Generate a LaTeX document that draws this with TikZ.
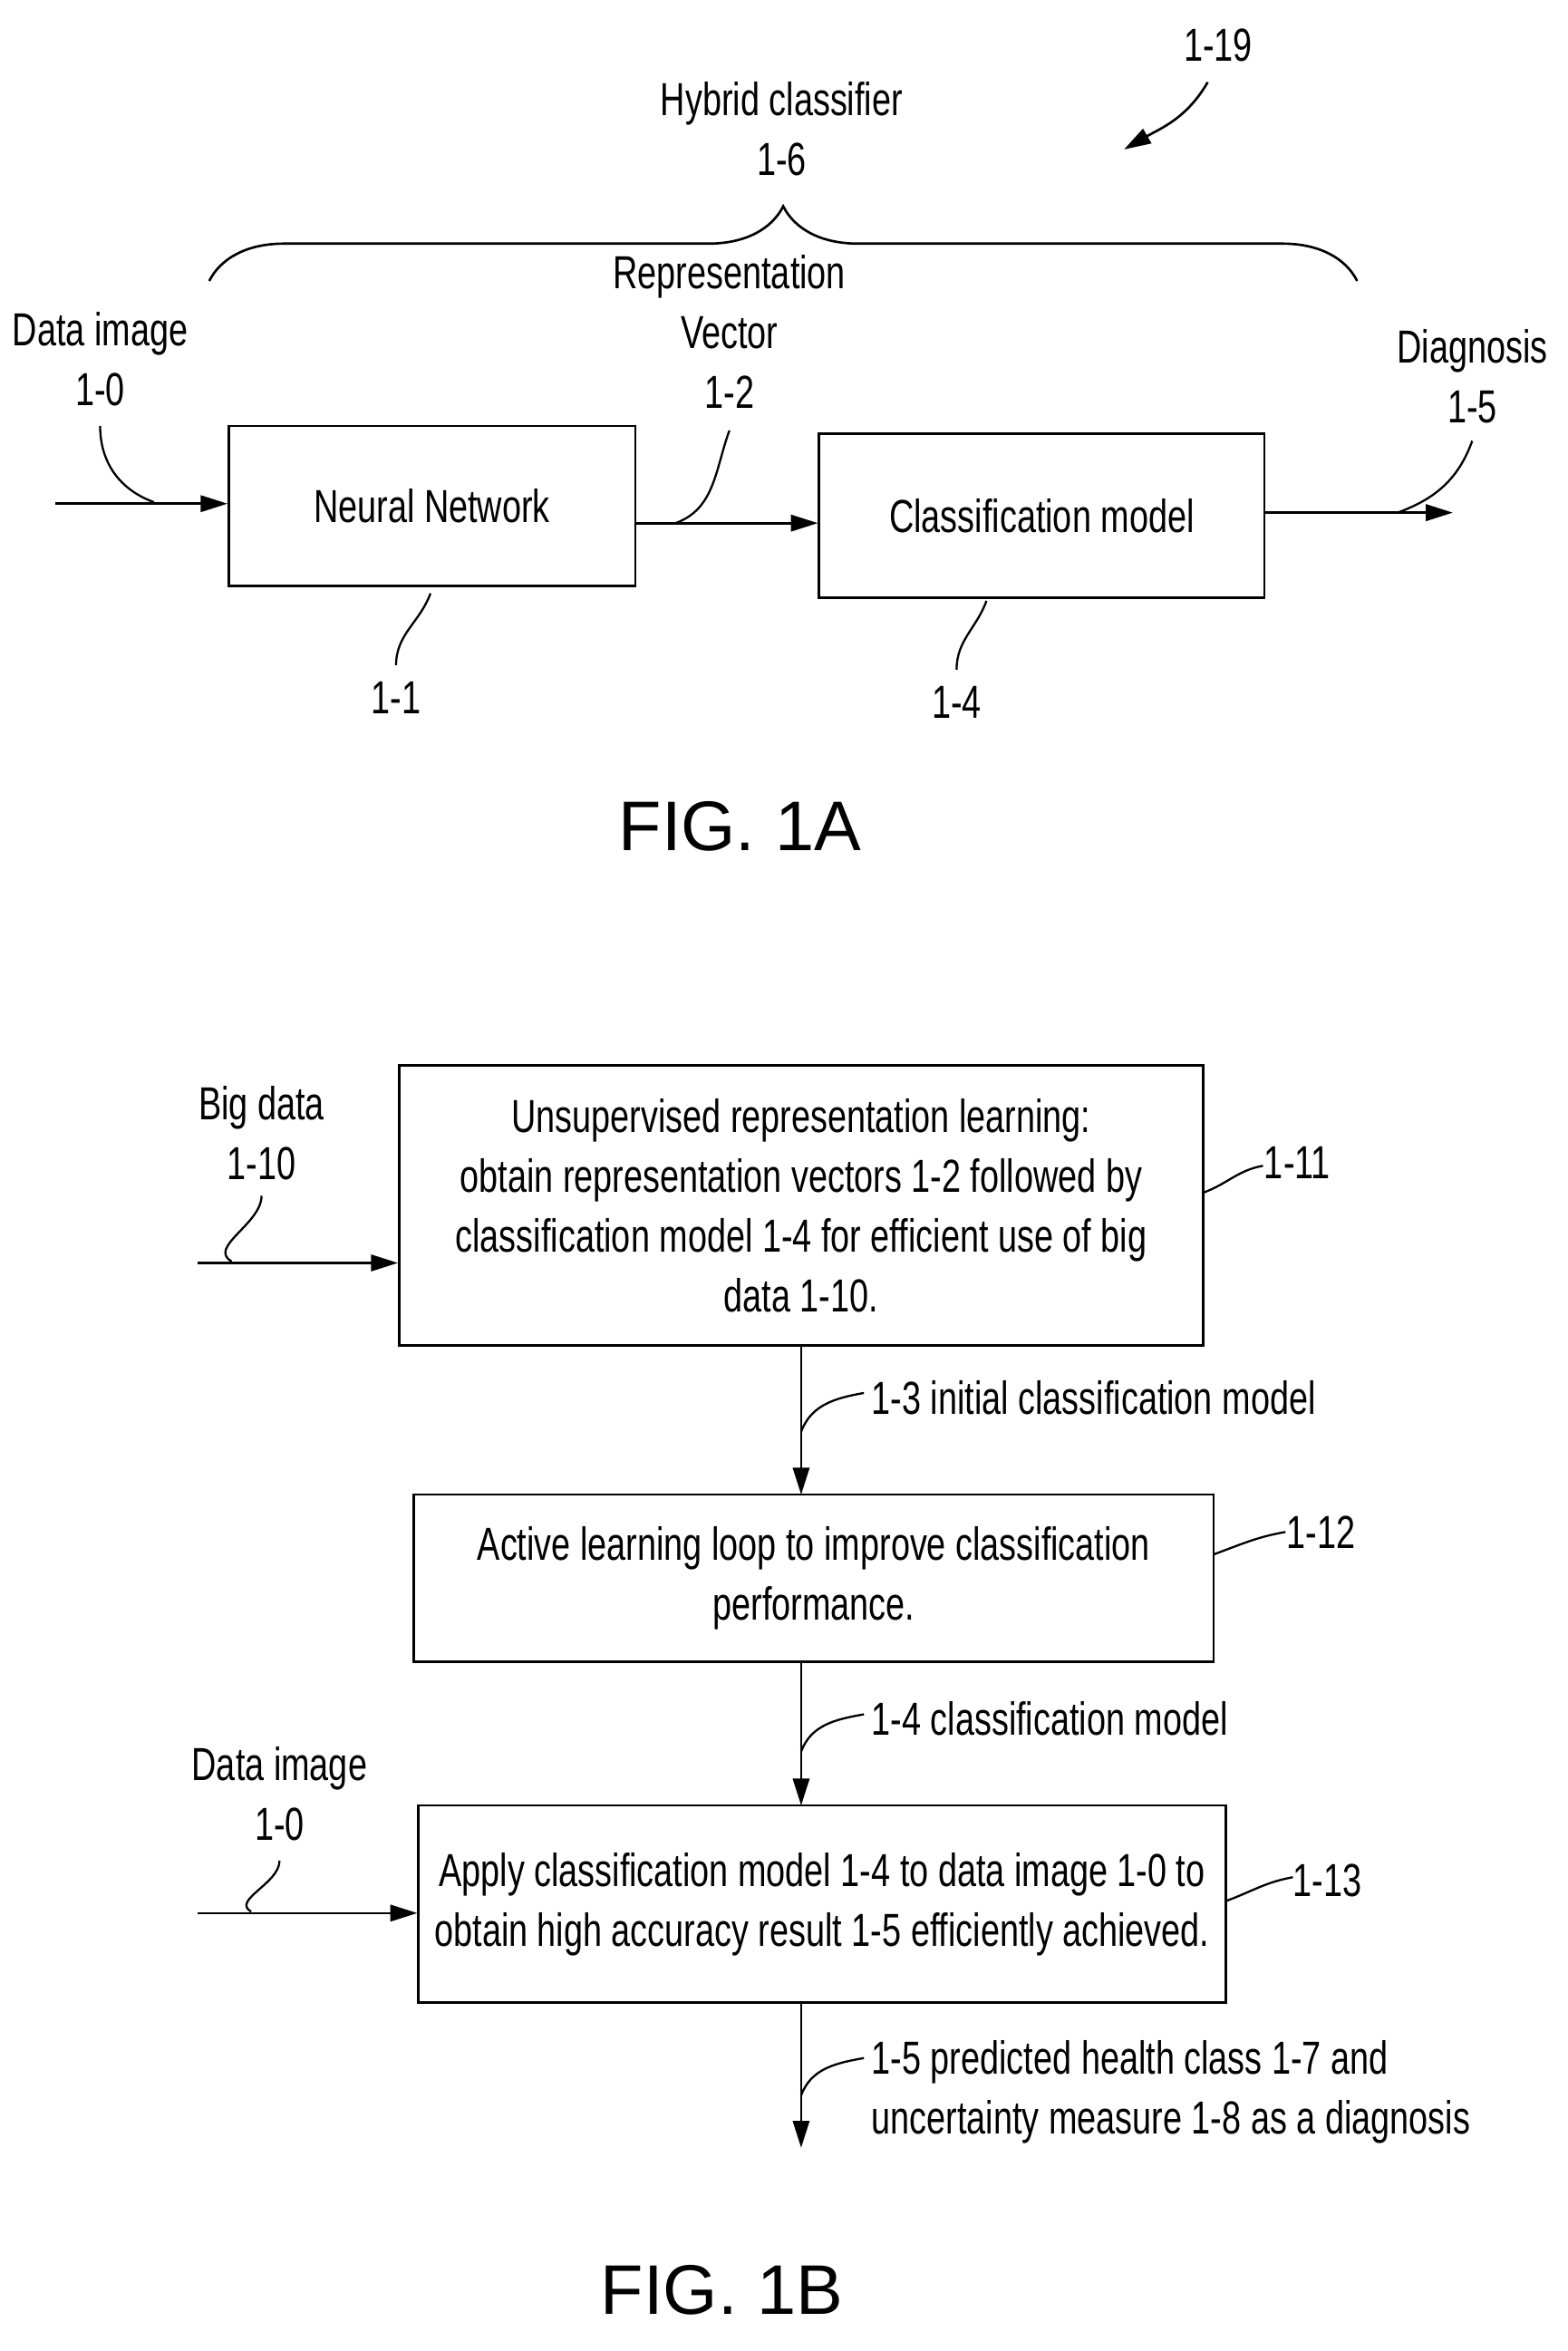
\documentclass[tikz,border=0pt]{standalone}
\usepackage{fontspec}
\setmainfont{Liberation Sans}[FakeStretch=0.74]
\newfontfamily\figfont{Liberation Sans}
\usetikzlibrary{arrows.meta,decorations.pathreplacing}
\begin{document}
\begin{tikzpicture}[x=1pt,y=-1pt,
  txt/.style={font=\fontsize{31}{40}\selectfont, inner sep=0pt, align=center},
  lbl/.style={font=\fontsize{31}{40}\selectfont, inner sep=0pt, align=left, anchor=west},
  fig/.style={font=\figfont\fontsize{47}{56}\selectfont, inner sep=0pt},
  box/.style={draw, line width=1.6pt, inner sep=0pt},
  arr/.style={line width=1.6pt, -{Triangle[length=18pt,width=11pt]}},
  lead/.style={line width=1.4pt}]
\useasboundingbox (0,0) rectangle (1049,1573);
% FIG 1A
\node[txt] (n119) at (815,30) {1-19};
\coordinate (a119) at (752,100);
\draw[arr] (808,55) to[out=240,in=30] (a119);
\node[txt] (hc) at (523,86) {Hybrid classifier\\1-6};
\draw[line width=1.6pt, decoration={brace,amplitude=50pt,aspect=0.5}, decorate] (140,188) -- (908,188);
\node[txt] (rv) at (488,222) {Representation\\Vector\\1-2};
\node[txt] (di) at (67,240) {Data image\\1-0};
\node[txt] (dg) at (985,252) {Diagnosis\\1-5};
\node[box, minimum width=272pt, minimum height=107pt] (nn) at (289,338.5) {};
\node[txt] at (nn) {Neural Network};
\node[box, minimum width=298pt, minimum height=110pt] (cm) at (697,345) {};
\node[txt] at (cm) {Classification model};
\coordinate (in0) at (37,337);
\draw[arr] (in0) -- (nn.west |- in0);
\draw[lead] (67,285) to[out=270,in=160] (103,336);
\draw[arr] (nn.east |- 0,350) -- (cm.west |- 0,350);
\draw[lead] (488,288) to[out=250,in=20] (452,350);
\coordinate (out0) at (972,343);
\draw[arr] (cm.east |- out0) -- (out0);
\draw[lead] (985,295) to[out=250,in=20] (935,343);
\node[txt] (l11) at (265,467) {1-1};
\draw[lead] (288,397) to[out=250,in=90] (265,445);
\node[txt] (l14) at (640,470) {1-4};
\draw[lead] (660,402) to[out=250,in=90] (640,448);
\node[fig] (f1a) at (495,553) {FIG. 1A};
% FIG 1B
\node[box, minimum width=538pt, minimum height=187pt] (b11) at (536,806.5) {};
\node[txt] at (b11) {Unsupervised representation learning:\\obtain representation vectors 1-2 followed by\\classification model 1-4 for efficient use of big\\data 1-10.};
\node[txt] (bd) at (175,758) {Big data\\1-10};
\coordinate (in1) at (132,845);
\draw[arr] (in1) -- (b11.west |- in1);
\draw[lead] (175,800) to[out=270,in=150] (155,844);
\node[txt] (l111) at (868,778) {1-11};
\draw[lead] (805,798) to[out=20,in=190] (845,780);
\node[box, minimum width=535pt, minimum height=112pt] (b12) at (544.5,1056) {};
\node[txt] at (b12) {Active learning loop to improve classification\\performance.};
\draw[arr] (536,900) -- (536,1000);
\node[lbl] (t13) at (583,935) {1-3 initial classification model};
\draw[lead] (578,932) to[out=190,in=70] (536,958);
\node[txt] (l112) at (884,1025) {1-12};
\draw[lead] (812,1040) to[out=20,in=190] (860,1025);
\node[box, minimum width=540pt, minimum height=132pt] (b13) at (550,1274) {};
\node[txt] at (b13) {Apply classification model 1-4 to data image 1-0 to\\obtain high accuracy result 1-5 efficiently achieved.};
\draw[arr] (536,1112) -- (536,1208);
\node[lbl] (t14) at (583,1150) {1-4 classification model};
\draw[lead] (578,1147) to[out=190,in=70] (536,1172);
\node[txt] (di2) at (187,1200) {Data image\\1-0};
\coordinate (in2) at (132,1280);
\draw[arr] (in2) -- (b13.west |- in2);
\draw[lead] (187,1245) to[out=270,in=150] (168,1279);
\node[txt] (l113) at (888,1258) {1-13};
\draw[lead] (820,1272) to[out=20,in=190] (865,1256);
\coordinate (out2) at (536,1437);
\draw[arr] (536,1340) -- (out2);
\node[lbl] (t15) at (583,1400) {1-5 predicted health class 1-7 and\\uncertainty measure 1-8 as a diagnosis};
\draw[lead] (578,1377) to[out=190,in=70] (536,1402);
\node[fig] (f1b) at (483,1532) {FIG. 1B};
\end{tikzpicture}
\end{document}
